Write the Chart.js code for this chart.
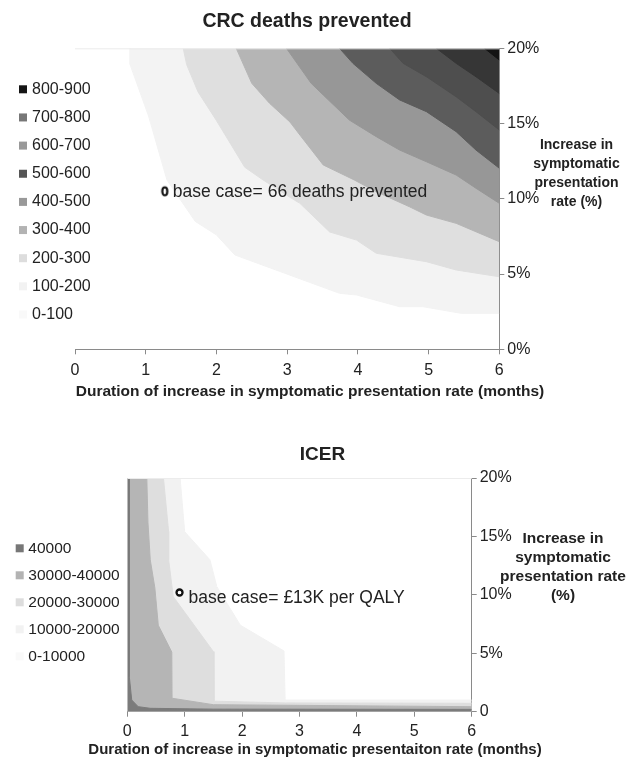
<!DOCTYPE html>
<html>
<head>
<meta charset="utf-8">
<script src="https://cdn.jsdelivr.net/npm/chart.js@4.4.0/dist/chart.umd.min.js"></script>
<style>
body { margin: 0; background: #fff; }
#top { position: absolute; left: 0; top: 0; width: 633px; height: 405px; }
#bottom { position: absolute; left: 0; top: 405px; width: 633px; height: 357px; }
</style>
</head>
<body>
<div id="top"><canvas id="crcChart"></canvas></div>
<div id="bottom"><canvas id="icerChart"></canvas></div>
<script>
// axis ticks (months / % increase)
var monthTicks = [0, 1, 2, 3, 4, 5, 6];
var rateTicks = [0, 5, 10, 15, 20];

// CRC deaths prevented - contour boundaries [months, %]
var crcBands = ['0-100', '100-200', '200-300', '300-400', '400-500', '500-600', '600-700', '700-800', '800-900'];
var crc100 = [[0.78, 20], [0.78, 18.9], [1.04, 15.5], [1.3, 11.25], [1.7, 8.5], [2.0, 7.6], [2.26, 6.27], [3.74, 3.72], [3.98, 3.61], [4.59, 2.83], [4.92, 2.83], [5.46, 2.39], [6, 2.39]];
var crc200 = [[1.53, 20], [1.58, 18.9], [1.74, 17.1], [2.0, 15.2], [2.4, 12.1], [2.66, 11.25], [3.04, 10.1], [3.18, 9.7], [3.6, 7.8], [3.98, 7.26], [4.26, 6.38], [4.97, 5.82], [5.39, 5.27], [6, 4.82]];
var crc300 = [[2.28, 20], [2.5, 17.67], [2.75, 16.35], [3.04, 15.1], [3.18, 14.24], [3.51, 12.25], [3.95, 11.25], [4.26, 10.47], [4.73, 9.47], [4.97, 8.92], [5.39, 8.37], [6, 7.15]];
var crc400 = [[2.99, 20], [3.34, 17.67], [3.51, 16.9], [3.88, 15.23], [4.26, 14.13], [4.59, 13.24], [4.97, 12.46], [5.39, 11.58], [5.67, 10.7], [6, 9.7]];
var crc500 = [[3.74, 20], [3.93, 19.0], [4.26, 17.67], [4.59, 16.57], [4.97, 15.79], [5.39, 14.46], [5.67, 13.24], [6, 12.03]];
var crc600 = [[4.45, 20], [4.64, 19.0], [4.97, 18.11], [5.39, 16.78], [5.67, 15.79], [6, 14.57]];
var crc700 = [[5.11, 20], [5.39, 19.0], [5.67, 18.11], [6, 17.0]];
var crc800 = [[5.79, 20], [6, 19.22]];
var crcBase = [1.27, 10.5];

// ICER - contour boundaries [months, %]
var icerBands = ['0-10000', '10000-20000', '20000-30000', '30000-40000', '40000'];
var icer10k = [[0, 20], [0.92, 20], [1.0, 15.4], [1.44, 13.0], [1.56, 10.7], [1.97, 7.4], [2.73, 5.2], [2.75, 1.0], [6, 1.0]];
var icer20k = [[0, 20], [0.63, 20], [0.72, 15.4], [0.72, 13.0], [0.8, 9.85], [1.12, 7.7], [1.5, 5.14], [1.51, 0.9], [2.75, 0.75], [6, 0.72]];
var icer30k = [[0, 20], [0.34, 20], [0.36, 16.2], [0.4, 13.0], [0.48, 10.6], [0.54, 7.4], [0.775, 5.1], [0.78, 1.15], [1.5, 0.6], [6, 0.43]];
var icer40k = [[0, 20], [0.035, 20], [0.035, 3], [0.077, 1.0], [0.19, 0.43], [0.4, 0.29], [1.5, 0.22], [6, 0.2]];
var icerBase = [0.91, 10.2];

var crcFill = ['#f3f3f3', '#dfdfdf', '#b5b5b5', '#979797', '#5c5c5c', '#4e4e4e', '#363636', '#141414'];
var crcLegend = ['#f9f9f9', '#f2f2f2', '#dddddd', '#b3b3b3', '#999999', '#555555', '#999999', '#777777', '#151515'];
var icerFill = ['#f2f2f2', '#dedede', '#b5b5b5', '#7b7b7b'];
var icerLegend = ['#f9f9f9', '#f2f2f2', '#dddddd', '#b3b3b3', '#777777'];

var FONT = "'Liberation Sans', Arial, sans-serif";
var INK = '#222';

function toXY(arr) {
    return arr.map(function (p) { return {x: p[0], y: p[1]}; });
}

function ellipseMark(w, h, lw) {
    var c = document.createElement('canvas');
    c.width = Math.ceil(w + lw * 2);
    c.height = Math.ceil(h + lw * 2);
    var g = c.getContext('2d');
    g.beginPath();
    g.ellipse(c.width / 2, c.height / 2, w / 2, h / 2, 0, 0, 2 * Math.PI);
    g.fillStyle = '#fff';
    g.fill();
    g.lineWidth = lw;
    g.strokeStyle = '#111';
    g.stroke();
    return c;
}

// bands: boundary i fills everything above/left of it with band i+1 colour
function bandSets(bounds, labels, colors, fillTo) {
    var sets = [];
    for (var i = 0; i < bounds.length; i++) {
        sets.push({
            label: labels[i + 1],
            data: toXY(bounds[i]),
            fill: fillTo,
            backgroundColor: colors[i],
            borderColor: colors[i],
            borderWidth: 1,
            pointRadius: 0,
            tension: 0,
            order: 50 - i
        });
    }
    return sets;
}

function decor(d) {
    return {
        id: 'decor',
        afterDraw: function (chart) {
            var ctx = chart.ctx;
            ctx.save();
            ctx.fillStyle = INK;
            ctx.textBaseline = 'middle';
            ctx.textAlign = 'center';
            ctx.font = 'bold ' + d.titleSize + 'px ' + FONT;
            ctx.fillText(d.title, d.titleX, d.titleY);
            ctx.font = 'bold ' + d.xTitleSize + 'px ' + FONT;
            ctx.fillText(d.xTitle, d.xTitleX, d.xTitleY);
            ctx.font = 'bold ' + d.yTitleSize + 'px ' + FONT;
            d.yTitle.forEach(function (line, i) {
                ctx.fillText(line, d.yTitleX, d.yTitleY + i * d.yTitleStep);
            });
            // legend, darkest first
            ctx.textAlign = 'left';
            ctx.font = d.legendSize + 'px ' + FONT;
            var n = d.legendLabels.length;
            for (var i = 0; i < n; i++) {
                var k = n - 1 - i;
                var y = d.legendY + i * d.legendStep;
                ctx.fillStyle = d.legendColors[k];
                ctx.fillRect(d.legendX, y - 4, 8, 8);
                ctx.fillStyle = INK;
                ctx.fillText(d.legendLabels[k], d.legendTextX, y);
            }
            // base case note
            var px = chart.scales.x.getPixelForValue(d.base[0]);
            var py = chart.scales.y.getPixelForValue(d.base[1]);
            ctx.font = d.noteSize + 'px ' + FONT;
            ctx.fillText(d.note, px + d.noteDx, py + d.noteDy);
            // faint top frame of plot area
            ctx.strokeStyle = '#ececec';
            ctx.lineWidth = 1;
            ctx.beginPath();
            ctx.moveTo(chart.chartArea.left, chart.chartArea.top + 0.5);
            ctx.lineTo(chart.chartArea.right, chart.chartArea.top + 0.5);
            ctx.stroke();
            ctx.restore();
        }
    };
}

function scales(xHeight, yWidth, zeroLabel, xPad) {
    var axisGrid = {drawOnChartArea: false, drawTicks: true, tickLength: 5, color: '#8a8a8a'};
    return {
        x: {
            type: 'linear', min: 0, max: 6,
            afterBuildTicks: function (s) { s.ticks = monthTicks.map(function (v) { return {value: v}; }); },
            ticks: {font: {size: 16, family: FONT}, color: INK, padding: xPad},
            grid: axisGrid,
            border: {display: true, color: '#8a8a8a'},
            afterFit: function (s) { s.height = xHeight; }
        },
        y: {
            type: 'linear', position: 'right', min: 0, max: 20,
            afterBuildTicks: function (s) { s.ticks = rateTicks.map(function (v) { return {value: v}; }); },
            ticks: {
                font: {size: 16, family: FONT}, color: INK, padding: 3,
                callback: function (v) { return v === 0 ? zeroLabel : v + '%'; }
            },
            grid: axisGrid,
            border: {display: true, color: '#8a8a8a'},
            afterFit: function (s) { s.width = yWidth; }
        }
    };
}

var crcSets = bandSets([crc100, crc200, crc300, crc400, crc500, crc600, crc700, crc800], crcBands, crcFill, 'end');
crcSets.push({
    label: 'base case',
    data: [{x: crcBase[0], y: crcBase[1]}],
    showLine: false,
    pointStyle: ellipseMark(5, 8, 2.2),
    pointRadius: 5,
    order: 0
});

new Chart(document.getElementById('crcChart'), {
    type: 'line',
    data: {datasets: crcSets},
    options: {
        responsive: true,
        maintainAspectRatio: false,
        animation: false,
        events: [],
        layout: {padding: {left: 75, top: 48.3, right: 0, bottom: 0}},
        plugins: {legend: {display: false}, tooltip: {enabled: false}, title: {display: false}},
        scales: scales(55.7, 133.7, '0%', 7)
    },
    plugins: [decor({
        title: 'CRC deaths prevented', titleSize: 19.5, titleX: 307, titleY: 22,
        xTitle: 'Duration of increase in symptomatic presentation rate (months)', xTitleSize: 15.5, xTitleX: 310, xTitleY: 392,
        yTitle: ['Increase in', 'symptomatic', 'presentation', 'rate (%)'], yTitleSize: 14, yTitleX: 576.5, yTitleY: 145, yTitleStep: 19,
        legendLabels: crcBands, legendColors: crcLegend, legendX: 19, legendTextX: 32, legendY: 89.3, legendStep: 28.15, legendSize: 16,
        note: 'base case= 66 deaths prevented', noteSize: 17.5, noteDx: 8, noteDy: 1, base: crcBase
    })]
});

var icerSets = bandSets([icer10k, icer20k, icer30k, icer40k], icerBands, icerFill, 'start');
icerSets.push({
    label: 'base case',
    data: [{x: icerBase[0], y: icerBase[1]}],
    showLine: false,
    pointStyle: 'circle',
    pointRadius: 3,
    borderWidth: 2.3,
    borderColor: '#111',
    backgroundColor: '#fff',
    order: 0
});

new Chart(document.getElementById('icerChart'), {
    type: 'line',
    data: {datasets: icerSets},
    options: {
        responsive: true,
        maintainAspectRatio: false,
        animation: false,
        events: [],
        layout: {padding: {left: 127.3, top: 73, right: 0, bottom: 0}},
        plugins: {legend: {display: false}, tooltip: {enabled: false}, title: {display: false}},
        scales: scales(50.3, 161.3, '0', 5)
    },
    plugins: [decor({
        title: 'ICER', titleSize: 19, titleX: 322.5, titleY: 50,
        xTitle: 'Duration of increase in symptomatic presentaiton rate (months)', xTitleSize: 15, xTitleX: 315, xTitleY: 345,
        yTitle: ['Increase in', 'symptomatic', 'presentation rate', '(%)'], yTitleSize: 15.5, yTitleX: 563, yTitleY: 134, yTitleStep: 19,
        legendLabels: icerBands, legendColors: icerLegend, legendX: 15.7, legendTextX: 28.3, legendY: 143.3, legendStep: 27, legendSize: 15.5,
        note: 'base case= £13K per QALY', noteSize: 17.5, noteDx: 9, noteDy: 5.6, base: icerBase
    })]
});
</script>
</body>
</html>
